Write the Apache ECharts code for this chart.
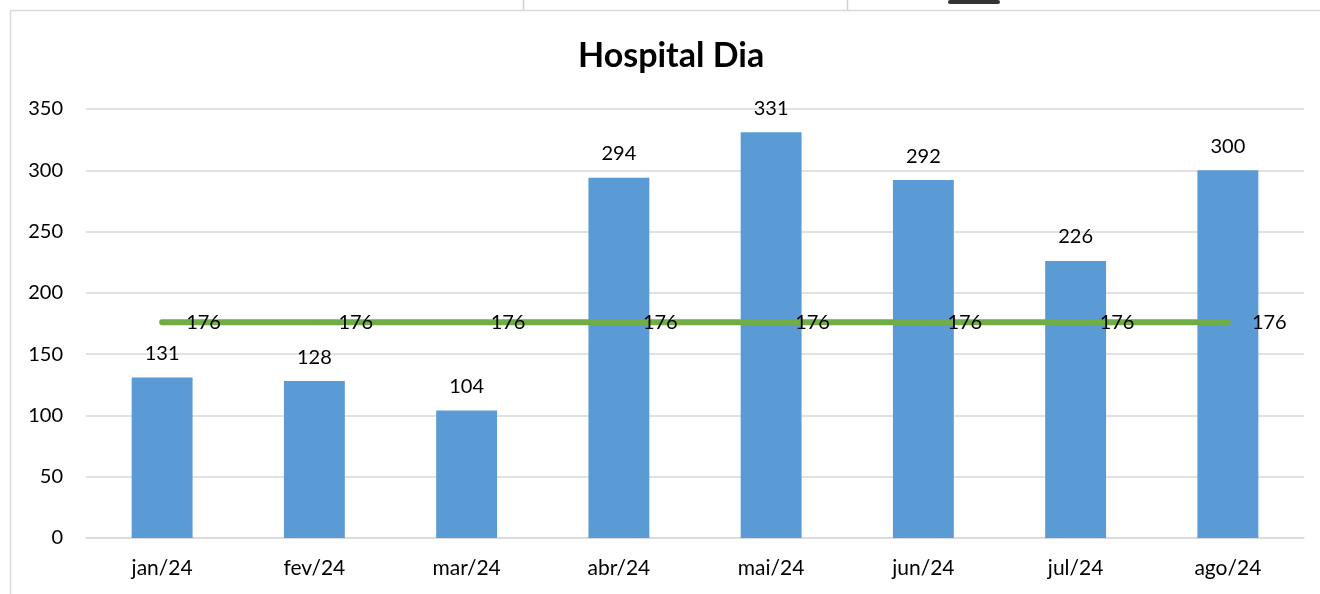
<!DOCTYPE html>
<html>
<head>
<meta charset="utf-8">
<script src="https://cdn.jsdelivr.net/npm/echarts@6/dist/echarts.min.js"></script>
<style>
html,body{margin:0;padding:0;background:#fff;}
#chart{width:1320px;height:594px;}
</style>
</head>
<body>
<div id="chart"></div>
<script>
const categories = ['jan/24','fev/24','mar/24','abr/24','mai/24','jun/24','jul/24','ago/24'];
const barValues = [131,128,104,294,331,292,226,300];
const lineValues = [176,176,176,176,176,176,176,176];
const titleText = 'Hospital Dia';

const chart = echarts.init(document.getElementById('chart'));
const font = 'Lato, "Noto Sans", sans-serif';
chart.setOption({
  animation: false,
  backgroundColor: '#fff',
  title: {
    text: titleText,
    left: 573,
    top: 34,
    textStyle: {fontFamily: font, fontSize: 34, fontWeight: 'bold', color: '#000'}
  },
  graphic: [
    {type:'line', shape:{x1:10.5,y1:10.5,x2:1320,y2:10.5}, style:{stroke:'#d9d9d9',lineWidth:1.5}},
    {type:'line', shape:{x1:10.5,y1:10.5,x2:10.5,y2:594}, style:{stroke:'#d9d9d9',lineWidth:1.5}},
    {type:'line', shape:{x1:523.5,y1:0,x2:523.5,y2:10}, style:{stroke:'#d0d0d0',lineWidth:1.5}},
    {type:'line', shape:{x1:847.5,y1:0,x2:847.5,y2:10}, style:{stroke:'#d0d0d0',lineWidth:1.5}},
    {type:'rect', shape:{x:948,y:0,width:52,height:4,r:2}, style:{fill:'#333'}}
  ],
  grid: {left: 86, right: 16, top: 109, bottom: 56, containLabel: false},
  xAxis: {
    type: 'category',
    data: categories,
    axisLine: {show: true, lineStyle: {color: '#d9d9d9', width: 1.5}},
    axisTick: {show: false},
    axisLabel: {fontFamily: font, fontSize: 21, color: '#000', margin: 20}
  },
  yAxis: {
    type: 'value',
    min: 0, max: 350, interval: 50,
    axisLine: {show: false},
    axisTick: {show: false},
    splitLine: {lineStyle: {color: '#d9d9d9', width: 1.5}},
    axisLabel: {fontFamily: font, fontSize: 20, color: '#000', margin: 23}
  },
  series: [
    {
      type: 'bar',
      data: barValues,
      barWidth: '40%',
      itemStyle: {color: '#5B9BD5'},
      label: {show: true, position: 'top', distance: 14, fontFamily: font, fontSize: 20, color: '#000'}
    },
    {
      type: 'line',
      data: lineValues,
      symbol: 'circle',
      symbolSize: 4,
      itemStyle: {color: '#70AD47'},
      lineStyle: {color: '#70AD47', width: 6, cap: 'round'},
      label: {show: true, position: 'right', distance: 22, fontFamily: font, fontSize: 20, color: '#000'},
      z: 3
    }
  ]
});
</script>
</body>
</html>
